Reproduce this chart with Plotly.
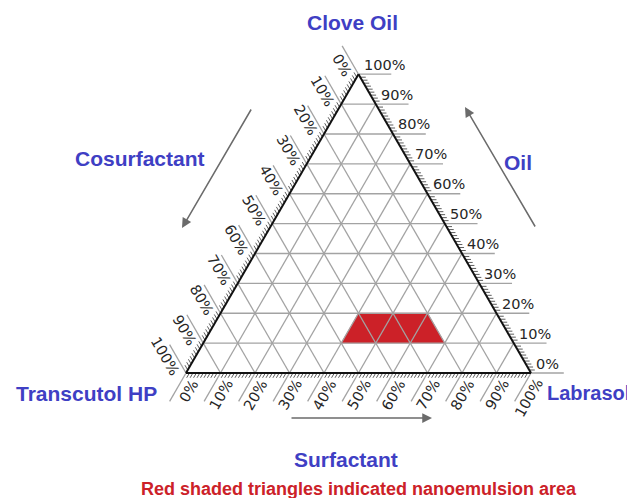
import math
import plotly.graph_objects as go

# ---------------- data ----------------
tick_values = [0, 10, 20, 30, 40, 50, 60, 70, 80, 90, 100]
tick_labels = ["0%", "10%", "20%", "30%", "40%", "50%", "60%", "70%", "80%", "90%", "100%"]
vertex_names = ["Clove Oil", "Transcutol HP", "Labrasol"]        # top, bottom-left, bottom-right
axis_titles = ["Oil", "Cosurfactant", "Surfactant"]
caption = "Red shaded triangles indicated nanoemulsion area"

# nanoemulsion cells (10% grid): lower oil bound, surfactant at the cell's anchor corner, up/down
nano_oil = [10, 10, 10, 10, 10]
nano_surf = [40, 50, 60, 50, 60]
nano_up = [1, 1, 1, 0, 0]

# ---------------- style ----------------
PAGE_W, PAGE_H = 635, 498
OFF = 8                                   # default page margin around the plot div
W, H = PAGE_W - OFF, PAGE_H - OFF
X0, Y0, SIDE = 186 - OFF, 373 - OFF, 345  # bottom-left vertex (px in figure) and side length (px)
GRID = "#a3a3a3"
EDGE = "#111111"
BLUE = "#3f3fc4"
RED = "#cc2128"
ARROW = "#6b6b6b"
EXT = 9.5      # length of outer tick extensions (% units)
MINOR = 1.6    # minor tick length (% units)
S3 = math.sqrt(3) / 2


def proj(oil, surf):
    """ternary (oil, surfactant, cosurfactant = 100-oil-surf) -> cartesian side units"""
    return surf / 100 + oil / 200, oil / 100 * S3


def seg_trace(segs, color, width):
    xs, ys = [], []
    for (p, q) in segs:
        x1, y1 = proj(*p)
        x2, y2 = proj(*q)
        xs += [x1, x2, None]
        ys += [y1, y2, None]
    return go.Scatter(x=xs, y=ys, mode="lines", line=dict(color=color, width=width),
                      hoverinfo="skip", showlegend=False)


fig = go.Figure()

# red nanoemulsion cells
fx, fy = [], []
for o, s, up in zip(nano_oil, nano_surf, nano_up):
    if up:
        pts = [(o, s), (o, s + 10), (o + 10, s)]
    else:
        pts = [(o, s), (o + 10, s), (o + 10, s - 10)]
    for p in pts + [pts[0]]:
        x, y = proj(*p)
        fx.append(x)
        fy.append(y)
    fx.append(None)
    fy.append(None)
fig.add_trace(go.Scatter(x=fx, y=fy, mode="lines", fill="toself", fillcolor=RED,
                         line=dict(color=RED, width=0.5), hoverinfo="skip", showlegend=False))

# inner grid + outer extensions
grid = []
for k in tick_values:
    if 0 < k < 100:
        grid.append(((k, 0), (k, 100 - k)))            # constant oil
        grid.append(((0, k), (100 - k, k)))            # constant surfactant
        grid.append(((0, 100 - k), (100 - k, 0)))      # constant cosurfactant
    grid.append(((k, 100 - k), (k, 100 - k + EXT)))              # oil ticks (right)
    grid.append(((0, k), (-EXT, k)))                              # surfactant ticks (bottom)
    grid.append(((100 - k, 0), (100 - k + EXT, -EXT)))           # cosurfactant ticks (left)
fig.add_trace(seg_trace(grid, GRID, 1.3))

# minor ruler ticks on the edges
minor = []
for m in range(1, 100):
    if m % 10 == 0:
        continue
    minor.append(((m, 100 - m), (m, 100 - m + MINOR)))
    minor.append(((0, m), (-MINOR, m)))
    minor.append(((100 - m, 0), (100 - m + MINOR, -MINOR)))
fig.add_trace(seg_trace(minor, "#333333", 0.8))

# triangle edges
fig.add_trace(seg_trace([((0, 0), (0, 100)), ((0, 100), (100, 0)), ((100, 0), (0, 0))], EDGE, 2))

ann = []
tick_font = dict(family="DejaVu Sans", size=14.5, color="#262626")
for k, lab in zip(tick_values, tick_labels):
    x, y = proj(k, 100 - k)
    ann.append(dict(x=x, y=y, text=lab, showarrow=False, xanchor="left", yanchor="middle",
                    xshift=3, yshift=9.5, font=tick_font))
    x, y = proj(0, k)
    ann.append(dict(x=x, y=y, text=lab, showarrow=False, textangle=-60, xanchor="right",
                    yanchor="top", xshift=18, yshift=-1, font=tick_font))
    x, y = proj(100 - k, 0)
    ann.append(dict(x=x, y=y, text=lab, showarrow=False, textangle=60, xanchor="right",
                    yanchor="bottom", xshift=-1, yshift=-7, font=tick_font))


def pp(px, py):
    """reference page pixel -> paper fraction"""
    return (px - OFF) / W, 1 - (py - OFF) / H


title_font = dict(family="Liberation Sans, Arial", size=21, color=BLUE, weight="bold")
title_pos = [(352, 22), (86, 393), (588, 393), (518, 162), (140, 158), (346, 459)]
title_size = [21, 21, 20, 21, 21, 21]
for text, (px, py), sz in zip(vertex_names + axis_titles, title_pos, title_size):
    x, y = pp(px, py)
    ann.append(dict(x=x, y=y, xref="paper", yref="paper", text=text, showarrow=False,
                    xanchor="center", yanchor="middle", font={**title_font, "size": sz}))

x, y = pp(359, 489)
ann.append(dict(x=x, y=y, xref="paper", yref="paper", text=caption, showarrow=False,
                xanchor="center", yanchor="middle",
                font=dict(family="Liberation Sans, Arial", size=18, color=RED, weight="bold")))

# direction arrows
for (hx, hy), (tx, ty) in [((182, 228), (252, 108)), ((465, 107), (536, 228)), ((432, 418), (290, 418))]:
    x, y = pp(hx, hy)
    ann.append(dict(x=x, y=y, xref="paper", yref="paper", ax=tx - hx, ay=ty - hy, text="",
                    showarrow=True, arrowhead=2, arrowsize=1.3, arrowwidth=1.5, arrowcolor=ARROW))

fig.update_layout(
    width=W, height=H, margin=dict(l=0, r=0, t=0, b=0),
    paper_bgcolor="white", plot_bgcolor="white",
    xaxis=dict(range=[-X0 / SIDE, (W - X0) / SIDE], visible=False, fixedrange=True),
    yaxis=dict(range=[(Y0 - H) / SIDE, Y0 / SIDE], visible=False, fixedrange=True),
    annotations=ann, showlegend=False,
)

fig.write_html("out.html")
